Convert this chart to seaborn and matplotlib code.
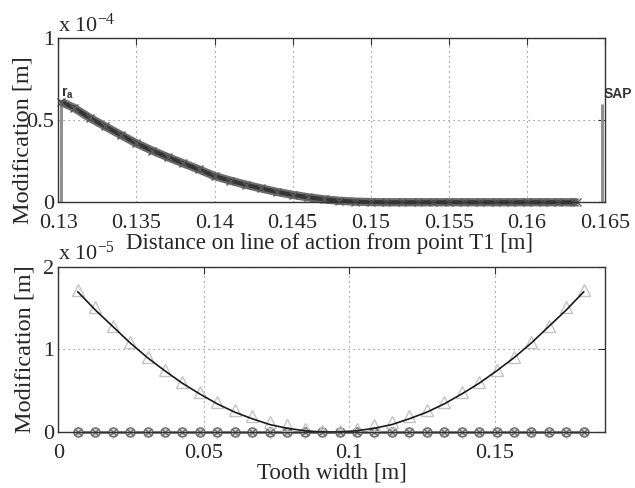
import matplotlib
matplotlib.use('Agg')
import matplotlib.pyplot as plt
import seaborn as sns

# ==========================================
# DATA
# ==========================================

# Top panel: profile modification along the line of action (values in 1e-4 m)
loa_pos = [0.1302, 0.131, 0.132, 0.133, 0.134, 0.135, 0.136, 0.137, 0.138, 0.139,
           0.140, 0.141, 0.142, 0.143, 0.144, 0.145, 0.146, 0.147, 0.148, 0.149,
           0.150, 0.151, 0.152, 0.153, 0.154, 0.155, 0.156, 0.157, 0.158, 0.159,
           0.160, 0.161, 0.162, 0.163, 0.1632]
loa_mod = [0.610, 0.575, 0.515, 0.462, 0.410, 0.359, 0.315, 0.275, 0.237, 0.200,
           0.160, 0.132, 0.107, 0.084, 0.063, 0.045, 0.030, 0.018, 0.009, 0.004,
           0.001, 0.0, 0.0, 0.0, 0.0, 0.0, 0.0, 0.0, 0.0, 0.0,
           0.0, 0.0, 0.0, 0.0, 0.0]

RA_POS, RA_HEIGHT = 0.1302, 0.61
SAP_POS, SAP_HEIGHT = 0.1648, 0.60

# Bottom panel: lead modification over tooth width (values in 1e-5 m)
width_pos = [0.0067, 0.0127, 0.0187, 0.0247, 0.0307, 0.0367, 0.0427, 0.0487, 0.0547, 0.0607,
             0.0667, 0.0727, 0.0787, 0.0847, 0.0907, 0.0967, 0.1027, 0.1087, 0.1147, 0.1207,
             0.1267, 0.1327, 0.1387, 0.1447, 0.1507, 0.1567, 0.1627, 0.1687, 0.1747, 0.1807]
lead_mod = [1.72, 1.51, 1.29, 1.09, 0.91, 0.75, 0.61, 0.48, 0.36, 0.27,
            0.19, 0.12, 0.08, 0.04, 0.01, 0.01, 0.04, 0.08, 0.12, 0.19,
            0.27, 0.36, 0.48, 0.61, 0.75, 0.91, 1.09, 1.29, 1.51, 1.72]
lead_fit = [1.70, 1.48, 1.28, 1.08, 0.90, 0.74, 0.59, 0.46, 0.34, 0.24,
            0.16, 0.09, 0.045, 0.015, 0.0, 0.0, 0.015, 0.045, 0.09, 0.16,
            0.24, 0.34, 0.46, 0.59, 0.74, 0.90, 1.08, 1.28, 1.48, 1.70]
lead_zero = [0.0] * len(width_pos)

TEXT = '#262626'

# ==========================================
# STYLE
# ==========================================
sns.set_theme(style='white')
plt.rcParams['font.family'] = ['Liberation Serif', 'DejaVu Serif']
plt.rcParams['mathtext.default'] = 'regular'


def style_axes(ax):
    for s in ax.spines.values():
        s.set_color('#333333')
        s.set_linewidth(1.0)
    ax.tick_params(direction='in', length=5, width=0.8, top=True, right=True,
                   labelsize=16, colors='#333333', labelcolor=TEXT)
    ax.tick_params(axis='x', pad=8.5)
    ax.tick_params(axis='y', pad=3)
    ax.grid(True, linestyle=(0, (1, 3.5)), color='#777777', linewidth=0.8)
    ax.set_axisbelow(True)


fig = plt.figure(figsize=(6.35, 4.88), dpi=100)
ax1 = fig.add_axes([0.0918, 0.5855, 0.861, 0.3366])
ax2 = fig.add_axes([0.0918, 0.1148, 0.861, 0.3381])

# ---- top panel ----
ax1.vlines(RA_POS, 0, RA_HEIGHT, color='#8a8a8a', linewidth=2)
ax1.vlines(SAP_POS, 0, SAP_HEIGHT, color='#8a8a8a', linewidth=2)
sns.lineplot(x=loa_pos, y=loa_mod, ax=ax1, color='#6e6e6e', linewidth=6,
             solid_capstyle='butt', clip_on=False, sort=False)
sns.lineplot(x=loa_pos, y=loa_mod, ax=ax1, color='#353535', linewidth=3,
             marker='x', markersize=6, markeredgecolor='#5a5a5a', markeredgewidth=1.0,
             clip_on=False, sort=False)
ax1.text(RA_POS, RA_HEIGHT + 0.005, 'r$_a$', fontsize=10, fontweight='bold',
         family='Liberation Sans', color='#333333', ha='left', va='bottom')
ax1.text(0.1649, 0.66, 'SAP', fontsize=10, fontweight='bold',
         family='Liberation Sans', color='#333333', ha='left', va='center')

ax1.set_xlim(0.13, 0.165)
ax1.set_ylim(0, 1)
ax1.set_xticks([0.13, 0.135, 0.14, 0.145, 0.15, 0.155, 0.16, 0.165])
ax1.set_xticklabels(['0.13', '0.135', '0.14', '0.145', '0.15', '0.155', '0.16', '0.165'])
ax1.set_yticks([0, 0.5, 1])
ax1.set_yticklabels(['0', '0.5', '1'])
style_axes(ax1)
ax1.set_xlabel('Distance on line of action from point T1 [m]', fontsize=16.5, color=TEXT)
ax1.set_ylabel('Modification [m]', fontsize=17.5, color=TEXT)
ax1.xaxis.set_label_coords(0.496, -0.185)
ax1.yaxis.set_label_coords(-0.046, 0.38)
ax1.text(0.0, 1.037, 'x 10$^{-4}$', transform=ax1.transAxes, fontsize=16,
         color=TEXT, ha='left', va='baseline')

# ---- bottom panel ----
sns.lineplot(x=width_pos, y=lead_zero, ax=ax2, color='#7a7a7a', linewidth=2,
             marker='o', markersize=6.5, markerfacecolor='#d4d4d4',
             markeredgecolor='#707070', markeredgewidth=1.1, clip_on=False)
sns.lineplot(x=width_pos, y=lead_zero, ax=ax2, color='none', linewidth=0,
             marker='x', markersize=4, markeredgecolor='#6a6a6a',
             markeredgewidth=1.0, clip_on=False)
sns.lineplot(x=width_pos, y=lead_mod, ax=ax2, color='none', linewidth=0,
             marker='^', markersize=8.5, markerfacecolor='none',
             markeredgecolor='#c4c4c4', markeredgewidth=1.0)
sns.lineplot(x=width_pos, y=lead_fit, ax=ax2, color='#1a1a1a', linewidth=1.2)

ax2.set_xlim(0, 0.188)
ax2.set_ylim(0, 2)
ax2.set_xticks([0, 0.05, 0.1, 0.15])
ax2.set_xticklabels(['0', '0.05', '0.1', '0.15'])
ax2.set_yticks([0, 1, 2])
ax2.set_yticklabels(['0', '1', '2'])
style_axes(ax2)
ax2.set_xlabel('Tooth width [m]', fontsize=16.5, color=TEXT)
ax2.set_ylabel('Modification [m]', fontsize=17.5, color=TEXT)
ax2.xaxis.set_label_coords(0.50, -0.186)
ax2.yaxis.set_label_coords(-0.042, 0.5)
ax2.text(0.0, 1.042, 'x 10$^{-5}$', transform=ax2.transAxes, fontsize=16,
         color=TEXT, ha='left', va='baseline')

fig.savefig('out.png', dpi=100)
plt.close(fig)
